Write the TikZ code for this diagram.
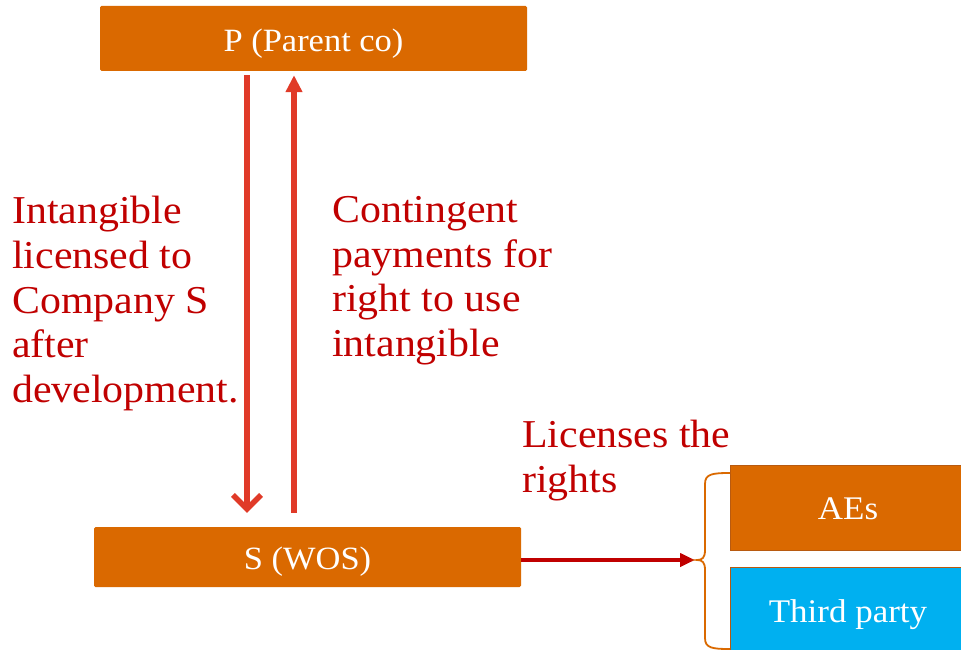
\documentclass[tikz,border=0pt]{standalone}
\usepackage{fontspec}
\setmainfont{Liberation Serif}[FakeStretch=1.06]
\usetikzlibrary{arrows.meta,calc}
\definecolor{boxorange}{HTML}{DA6900}
\definecolor{boxedge}{HTML}{B85A10}
\definecolor{boxblue}{HTML}{00B0F0}
\definecolor{arrred}{HTML}{E03A28}
\definecolor{txtred}{HTML}{C00000}
\tikzset{
  obox/.style={fill=boxorange, draw=none, rounded corners=1.5pt, text=white, inner sep=0pt, text depth=0pt, font=\fontsize{32.5}{36}\selectfont},
  ebox/.style={draw=boxedge, line width=0.8pt, text=white, inner sep=0pt, text depth=0pt, font=\fontsize{33}{36}\selectfont},
  lbl/.style={text=txtred, anchor=north west, inner sep=0pt, align=left, font=\fontsize{39.5}{44.7}\selectfont},
  varrow/.style={draw=arrred, line width=5.5pt},
  harrow/.style={draw=txtred, line width=4pt, -{Triangle[length=15pt,width=13pt]}},
  bracestyle/.style={draw=boxorange, line width=1.8pt}
}
\begin{document}
\begin{tikzpicture}[x=1pt,y=-1pt]
\useasboundingbox (0,0) rectangle (961,650);
% boxes
\node[obox, minimum width=427pt, minimum height=65pt, text height=26pt] (p) at (313.5,38.5) {P (Parent co)};
\node[obox, minimum width=427pt, minimum height=60pt, text height=25pt] (s) at (307.5,557) {S (WOS)};
\node[ebox, fill=boxorange, minimum width=240pt, minimum height=85pt, text height=23pt] (aes) at (850,507.5) {\hspace*{-4pt}AEs};
\node[ebox, fill=boxblue, minimum width=240pt, minimum height=95pt, text height=15pt] (third) at (850,614.5) {\hspace*{-4pt}Third party};
% coordinates for arrows
\coordinate (dx) at (247,0);
\coordinate (ux) at (294,0);
\coordinate (cusp) at (695,560);
% vertical arrows
\draw[varrow, -{Straight Barb[length=14pt,width=28pt]}] ([yshift=-4pt]p.south -| dx) -- ([yshift=14pt]s.north -| dx);
\draw[varrow, -{Triangle[length=17pt,width=16pt]}] ([yshift=14pt]s.north -| ux) -- ([yshift=-4pt]p.south -| ux);
% horizontal arrow
\draw[harrow] (s.east |- cusp) -- (cusp);
% brace
\draw[bracestyle] (730,473) .. controls (712,473) and (705,474) .. (705,484)
  -- (705,550) .. controls (705,558) and (702,560) .. (697,560)
  .. controls (702,560) and (705,562) .. (705,570)
  -- (705,638) .. controls (705,648) and (712,649) .. (730,649);
% labels
\node[lbl] (l1) at (12,196) {Intangible\\licensed to\\Company S\\after\\development.};
\node[lbl] (l2) at (332,196) {Contingent\\payments for\\right to use\\intangible};
\node[lbl] (l3) at (522,420) {Licenses the\\rights};
\end{tikzpicture}
\end{document}
